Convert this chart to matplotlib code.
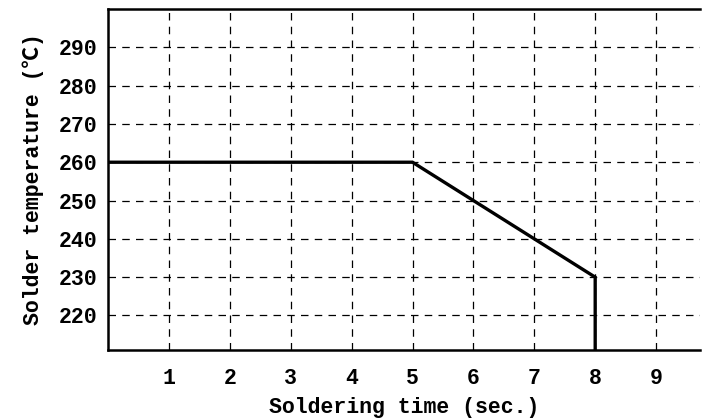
import matplotlib
matplotlib.use("Agg")
import matplotlib.pyplot as plt

# Data
time_s = [0, 5, 8, 8]
temp_c = [260, 260, 230, 211]
x_ticks = [1, 2, 3, 4, 5, 6, 7, 8, 9]
y_ticks = [220, 230, 240, 250, 260, 270, 280, 290]

fam = ['Liberation Mono', 'Noto Sans CJK JP', 'DejaVu Sans']
plt.rcParams['font.family'] = fam

fig = plt.figure(figsize=(7.07, 4.20), dpi=100)
ax = fig.add_axes([0.1528, 0.1667, 0.8372, 0.812])

ax.plot(time_s, temp_c, color='black', lw=2.4, solid_joinstyle='miter', zorder=3)

ax.set_xlim(0, 9.72)
ax.set_ylim(211, 300)
ax.set_xticks(x_ticks)
ax.set_yticks(y_ticks)
ax.grid(True, color='black', lw=0.9, linestyle=(0, (6, 5)))
ax.tick_params(length=0, labelsize=15.5)
ax.tick_params(axis='x', pad=13)
ax.tick_params(axis='y', pad=8)
for lab in ax.get_xticklabels() + ax.get_yticklabels():
    lab.set_fontweight('bold')

for s in ['left', 'bottom', 'top']:
    ax.spines[s].set_linewidth(1.8)
ax.spines['right'].set_visible(False)

ax.set_xlabel('Soldering time (sec.)', fontsize=15.5, fontweight='bold', labelpad=6)
ax.set_ylabel('Solder temperature (℃)', fontsize=15.5, fontweight='bold', labelpad=10)

fig.savefig('out.png', dpi=100)
